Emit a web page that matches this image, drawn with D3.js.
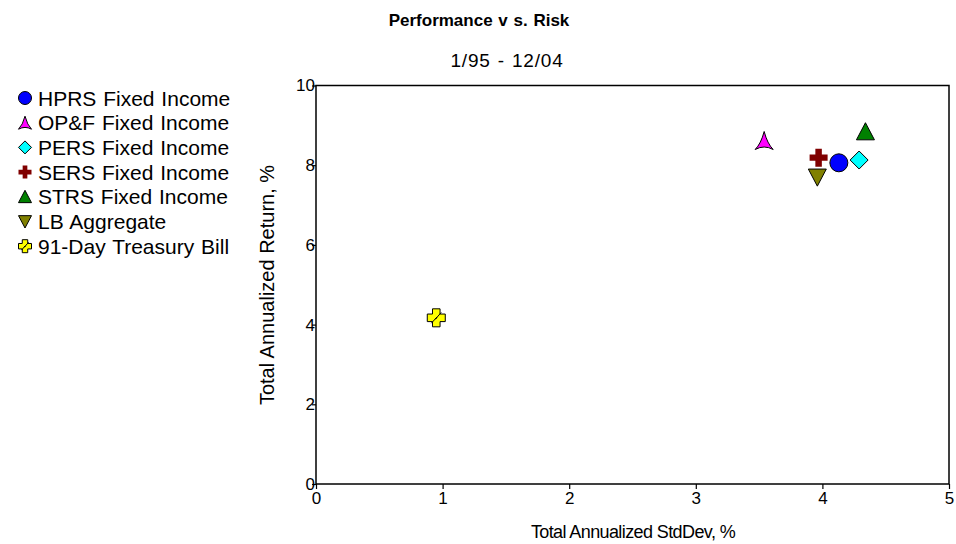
<!DOCTYPE html>
<html>
<head>
<meta charset="utf-8">
<script src="https://cdn.jsdelivr.net/npm/d3@7"></script>
<style>
  body { margin: 0; background: #fff; }
  text { font-family: Arial, "Liberation Sans", sans-serif; fill: #000; }
</style>
</head>
<body>
<div id="chart"></div>
<script>
// data
var seriesNames = ["HPRS Fixed Income", "OP&F Fixed Income", "PERS Fixed Income",
                   "SERS Fixed Income", "STRS Fixed Income", "LB Aggregate", "91-Day Treasury Bill"];
var stdDev  = [4.13, 3.54, 4.29, 3.97, 4.34, 3.96, 0.95];
var returns = [8.06, 8.62, 8.13, 8.19, 8.84, 7.70, 4.17];
var xTicks = [0, 1, 2, 3, 4, 5];
var yTicks = [0, 2, 4, 6, 8, 10];

// marker styles
var colors = ["#0000ff", "#ff00ff", "#00ffff", "#800000", "#008000", "#808000", "#ffff00"];
var shapes = ["circle", "arrow", "diamond", "plus", "triUp", "triDown", "tbill"];

var W = 956, H = 544;
var margin = {top: 85.5, right: 7, bottom: 60, left: 316};
var width = W - margin.left - margin.right,
    height = H - margin.top - margin.bottom;

var svg = d3.select("#chart").append("svg")
    .attr("width", W).attr("height", H);

var x = d3.scaleLinear().domain([0, 5]).range([0, width]);
var y = d3.scaleLinear().domain([0, 10]).range([height, 0]);

// titles
svg.append("text").attr("x", 479).attr("y", 26).attr("text-anchor", "middle")
   .style("font-size", "17px").style("font-weight", "bold").style("word-spacing", "1px")
   .text("Performance v s. Risk");
svg.append("text").attr("x", 507).attr("y", 67).attr("text-anchor", "middle")
   .style("font-size", "19px").style("letter-spacing", "0.8px").style("word-spacing", "1px")
   .text("1/95 - 12/04");

var g = svg.append("g")
    .attr("transform", "translate(" + margin.left + "," + margin.top + ")");

// axes
var xAxis = g.append("g").attr("transform", "translate(0," + height + ")")
    .call(d3.axisBottom(x).tickValues(xTicks).tickSize(5).tickFormat(d3.format("d")));
var yAxis = g.append("g")
    .call(d3.axisLeft(y).tickValues(yTicks).tickSize(4).tickPadding(0).tickFormat(d3.format("d")));
[xAxis, yAxis].forEach(function(a) {
  a.select(".domain").remove();
  a.selectAll("line").attr("stroke", "#000").attr("stroke-width", 1.2);
  a.selectAll("text").style("font-size", "17px").attr("fill", "#000")
   .style("font-family", "Arial, 'Liberation Sans', sans-serif");
});
xAxis.selectAll("text").attr("dy", "0.8em").attr("y", 6);
yAxis.selectAll("text").attr("x", -1);

// plot frame
g.append("rect").attr("width", width).attr("height", height)
  .attr("fill", "none").attr("stroke", "#000").attr("stroke-width", 1.5);

// axis titles
svg.append("text").attr("x", 633).attr("y", 538).attr("text-anchor", "middle")
   .style("font-size", "18px").style("letter-spacing", "-0.6px")
   .text("Total Annualized StdDev, %");
svg.append("text").attr("transform", "translate(274,285) rotate(-90)")
   .attr("text-anchor", "middle").style("font-size", "20px")
   .text("Total Annualized Return, %");

// marker paths
function markerPath(shape, s) {
  var p = d3.path();
  if (shape === "circle") {
    p.arc(0, 0, s, 0, 2 * Math.PI);
  } else if (shape === "triUp") {
    p.moveTo(0, -s); p.lineTo(s, s * 0.9); p.lineTo(-s, s * 0.9); p.closePath();
  } else if (shape === "triDown") {
    p.moveTo(-s, -s * 0.9); p.lineTo(s, -s * 0.9); p.lineTo(0, s); p.closePath();
  } else if (shape === "arrow") {
    p.moveTo(0, -s);
    p.quadraticCurveTo(s * 0.35, s * 0.35, s, s);
    p.quadraticCurveTo(0, s * 0.45, -s, s);
    p.quadraticCurveTo(-s * 0.35, s * 0.35, 0, -s);
    p.closePath();
  } else if (shape === "diamond") {
    p.moveTo(0, -s); p.lineTo(s, 0); p.lineTo(0, s); p.lineTo(-s, 0); p.closePath();
  } else if (shape === "plus" || shape === "tbill") {
    var a = s * (shape === "tbill" ? 0.42 : 0.36);
    p.moveTo(-a, -s); p.lineTo(a, -s); p.lineTo(a, -a); p.lineTo(s, -a);
    p.lineTo(s, a); p.lineTo(a, a); p.lineTo(a, s); p.lineTo(-a, s);
    p.lineTo(-a, a); p.lineTo(-s, a); p.lineTo(-s, -a); p.lineTo(-a, -a); p.closePath();
  }
  return p.toString();
}

function drawMarker(sel, i, s) {
  var sh = shapes[i];
  sel.append("path").attr("d", markerPath(sh, s))
    .attr("fill", colors[i])
    .attr("stroke", sh === "plus" ? "none" : "#000")
    .attr("stroke-width", sh === "plus" ? 0 : 1)
    .attr("stroke-linejoin", "miter");
  if (sh === "tbill") {
    sel.append("path")
      .attr("d", "M" + (-s * 0.55) + "," + (s * 0.6) + "L" + (s * 0.05) + "," + (-s * 0.05) +
                 "L" + (-s * 0.1) + "," + (s * 0.15) + "L" + (s * 0.55) + "," + (-s * 0.6))
      .attr("fill", "none").attr("stroke", "#000").attr("stroke-width", 1);
  }
}

// points
var idx = d3.range(seriesNames.length);
g.selectAll(".pt").data(idx).enter().append("g")
  .attr("class", "pt")
  .attr("transform", function(i) { return "translate(" + x(stdDev[i]) + "," + y(returns[i]) + ")"; })
  .each(function(i) { drawMarker(d3.select(this), i, 9); });

// legend
var leg = svg.append("g").attr("transform", "translate(0,98)");
var items = leg.selectAll(".leg").data(idx).enter().append("g")
  .attr("class", "leg")
  .attr("transform", function(i) { return "translate(0," + (i * 24.7) + ")"; });
items.append("g").attr("transform", "translate(25,0)")
  .each(function(i) { drawMarker(d3.select(this), i, 6.5); });
items.append("text").attr("x", 38).attr("y", 0).attr("dy", "0.36em")
  .style("font-size", "21px").style("word-spacing", "1px")
  .text(function(i) { return seriesNames[i]; });
</script>
</body>
</html>
